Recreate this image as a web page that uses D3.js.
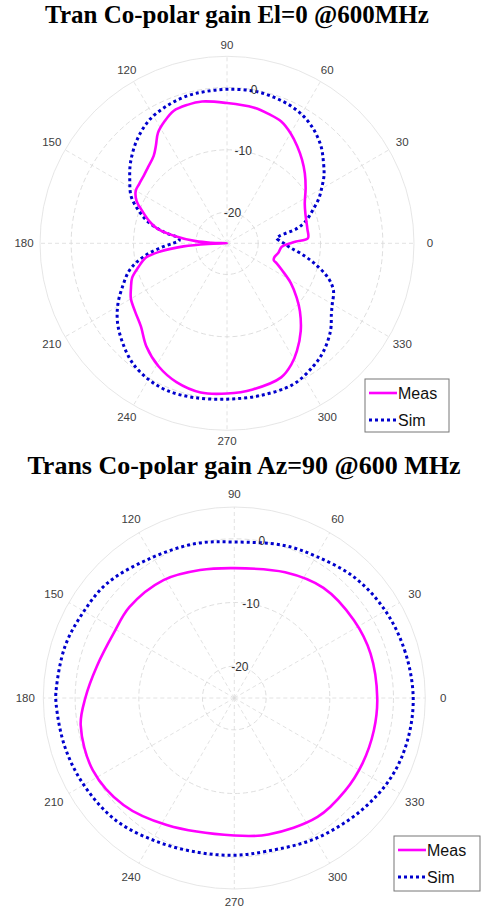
<!DOCTYPE html>
<html>
<head>
<meta charset="utf-8">
<script src="https://cdn.jsdelivr.net/npm/d3@7"></script>
<style>
body{margin:0;background:#fff;}
svg text{font-family:"Liberation Sans",Arial,sans-serif;}
</style>
</head>
<body>
<svg id="chart" width="482" height="910"></svg>
<script>
// polar axis ticks
var thetaTicks = [0,30,60,90,120,150,180,210,240,270,300,330];
var rTicks = [-20,-10,0];
var rMin = -25, rMax = 5;
var seriesNames = ['Meas','Sim'];

// El=0 cut
var elMeasDeg = [0,1.5,3.5,10,20,27,35,42,48,54,60,66,72,79,90,100,106,112,117,122,126,130,136,141,146,150,155,159,164,168,172,176,178,180,182,184,187,190,195,200,205,210,217,224,232,241,250,260,270,280,292,298,303,310,317,322,328,334,338,340,343,350,356.5];
var elMeasDb  = [-14.8,-13.9,-12.0,-11.9,-11.6,-11.0,-9.6,-8.2,-7.0,-5.8,-4.6,-3.6,-3.2,-2.8,-2.5,-1.9,-1.9,-2.1,-3.0,-4.1,-5.6,-6.7,-7.4,-7.8,-8.0,-8.1,-9.0,-10.4,-12.0,-13.5,-16.5,-20.0,-22.5,-25,-22,-18,-14.2,-11.8,-10.3,-8.8,-8.0,-7.2,-6.6,-5.8,-4.0,-2.4,-1.3,-0.7,-0.9,-1.2,-1.8,-3.0,-4.4,-6.6,-9.0,-10.8,-12.9,-15.2,-16.4,-17.0,-17.1,-16.6,-16.2];
var elSimDeg = [0,3,6,8,12,16,21,26,31,35,40,46,53,59,65,72,80,90,98,105,113,122,131,140,147,154,160,165,170,174,177,180,184,188,192,196,202,209,216,224,232,240,248,258,270,282,295,305,312,320,326,330,336,341,347,352,356];
var elSimDb  = [-15.9,-16.6,-17.0,-16.5,-13.5,-11.8,-10.3,-8.6,-7.2,-6.0,-4.8,-3.3,-2.0,-1.2,-0.7,-0.4,-0.2,-0.3,-0.4,-0.5,-0.9,-1.6,-3.0,-4.8,-6.4,-7.9,-10.0,-12.0,-14.8,-17.2,-17.3,-16.3,-14.2,-12.0,-10.1,-8.6,-7.0,-5.0,-3.3,-1.8,-0.5,0.2,0.5,0.3,0.0,0.0,0.0,-0.9,-1.8,-3.3,-4.8,-5.5,-6.3,-7.8,-10.6,-13.0,-14.8];

// Az=90 cut
var azMeasDeg = [0,18,33,51,68,90,105,121,139,152,167,180,190,207,224,242,270,284,305,320,333,347];
var azMeasDb  = [-2.55,-2.5,-2.6,-2.75,-3.7,-4.6,-4.2,-3.4,-3.2,-3.5,-2.85,-1.6,-0.5,-0.05,-0.8,-2.4,-3.4,-2.9,-2.2,-2.3,-2.4,-2.5];
var azSimDeg = [0,15,30,45,60,72,90,104,121,138,151,163,177,182,196,210,226,242,257,270,282,300,318,333,346];
var azSimDb  = [3.1,2.8,2.4,1.75,0.7,0.2,-0.5,0.0,0.6,1.9,2.3,2.8,3.0,3.0,2.7,2.3,1.75,0.6,-0.1,-0.3,-0.4,0.5,1.6,2.6,3.0];

var svg = d3.select('#chart');
var toRad = function(deg){ return (90 - deg) * Math.PI / 180; };

var drawPolar = function(o){
  var g = svg.append('g').attr('transform', 'translate(' + o.cx + ',' + o.cy + ')');
  var r = d3.scaleLinear().domain([rMin, rMax]).range([0, o.R]);

  // grid
  g.selectAll('.spoke').data(thetaTicks).enter().append('line')
    .attr('x1', 0).attr('y1', 0)
    .attr('x2', function(d){ return o.R * Math.cos(d * Math.PI / 180); })
    .attr('y2', function(d){ return -o.R * Math.sin(d * Math.PI / 180); })
    .style('stroke', '#dadada').style('stroke-width', 0.8).style('stroke-dasharray', '4,3');
  g.selectAll('.ring').data(rTicks).enter().append('circle')
    .attr('r', function(d){ return r(d); })
    .style('fill', 'none').style('stroke', '#d6d6d6').style('stroke-width', 0.8).style('stroke-dasharray', '5,3');
  g.append('circle').attr('r', o.R)
    .style('fill', 'none').style('stroke', '#e0e0e0').style('stroke-width', 0.8);

  // theta labels
  var lr = function(d){ return o.R + o.lo + 5 * Math.abs(Math.cos(d * Math.PI / 180)); };
  g.selectAll('.tl').data(thetaTicks).enter().append('text')
    .attr('x', function(d){ return lr(d) * Math.cos(d * Math.PI / 180); })
    .attr('y', function(d){ return -lr(d) * Math.sin(d * Math.PI / 180); })
    .attr('text-anchor', 'middle').attr('dominant-baseline', 'central')
    .style('font-size', '11.5px').style('fill', '#404040')
    .text(function(d){ return d; });

  // series
  var line = d3.lineRadial()
    .angle(function(d){ return toRad(d[0]); })
    .radius(function(d){ return r(d[1]); })
    .curve(d3.curveCatmullRomClosed.alpha(0.5));
  g.append('path').datum(d3.zip(o.simDeg, o.simDb))
    .attr('d', line)
    .style('fill', 'none').style('stroke', '#0000cd').style('stroke-width', 3).style('stroke-dasharray', '3,3');
  g.append('path').datum(d3.zip(o.measDeg, o.measDb))
    .attr('d', line)
    .style('fill', 'none').style('stroke', '#ff00ff').style('stroke-width', 2.6);

  // r labels at 80 deg
  g.selectAll('.rl').data(rTicks).enter().append('text')
    .attr('x', function(d){ return r(d) * Math.cos(80 * Math.PI / 180); })
    .attr('y', function(d){ return -r(d) * Math.sin(80 * Math.PI / 180); })
    .attr('text-anchor', 'middle').attr('dominant-baseline', 'central')
    .style('font-size', '12px').style('fill', '#333')
    .text(function(d){ return d; });

  // title
  svg.append('text').attr('x', o.tx).attr('y', o.ty)
    .attr('text-anchor', 'middle')
    .style('font-family', '"Liberation Serif","Times New Roman",serif')
    .style('font-weight', 'bold').style('font-size', o.tsize + 'px')
    .text(o.title);

  // legend
  var lg = svg.append('g').attr('transform', 'translate(' + o.lx + ',' + o.ly + ')');
  lg.append('rect').attr('width', o.lw).attr('height', o.lh)
    .style('fill', '#fff').style('stroke', '#777').style('stroke-width', 1);
  lg.selectAll('.ll').data(seriesNames).enter().append('line')
    .attr('x1', 4).attr('x2', 32)
    .attr('y1', function(d, i){ return 14 + i * 27; })
    .attr('y2', function(d, i){ return 14 + i * 27; })
    .style('stroke', function(d, i){ return i ? '#0000cd' : '#ff00ff'; })
    .style('stroke-width', function(d, i){ return i ? 3 : 2.6; })
    .style('stroke-dasharray', function(d, i){ return i ? '3,3' : null; });
  lg.selectAll('.lt').data(seriesNames).enter().append('text')
    .attr('x', 33).attr('y', function(d, i){ return 14 + i * 27; })
    .attr('dominant-baseline', 'central')
    .style('font-size', '16px').style('fill', '#111')
    .text(function(d){ return d; });
};

drawPolar({cx: 227, cy: 243.3, R: 187, lo: 11, measDeg: elMeasDeg, measDb: elMeasDb, simDeg: elSimDeg, simDb: elSimDb,
  title: 'Tran Co-polar gain El=0 @600MHz', tx: 237, ty: 23, tsize: 25,
  lx: 365, ly: 379, lw: 84, lh: 53});
drawPolar({cx: 234.3, cy: 698, R: 191, lo: 13, measDeg: azMeasDeg, measDb: azMeasDb, simDeg: azSimDeg, simDb: azSimDb,
  title: 'Trans Co-polar gain Az=90 @600 MHz', tx: 244, ty: 474, tsize: 26,
  lx: 394, ly: 836, lw: 86, lh: 55});
</script>
</body>
</html>
